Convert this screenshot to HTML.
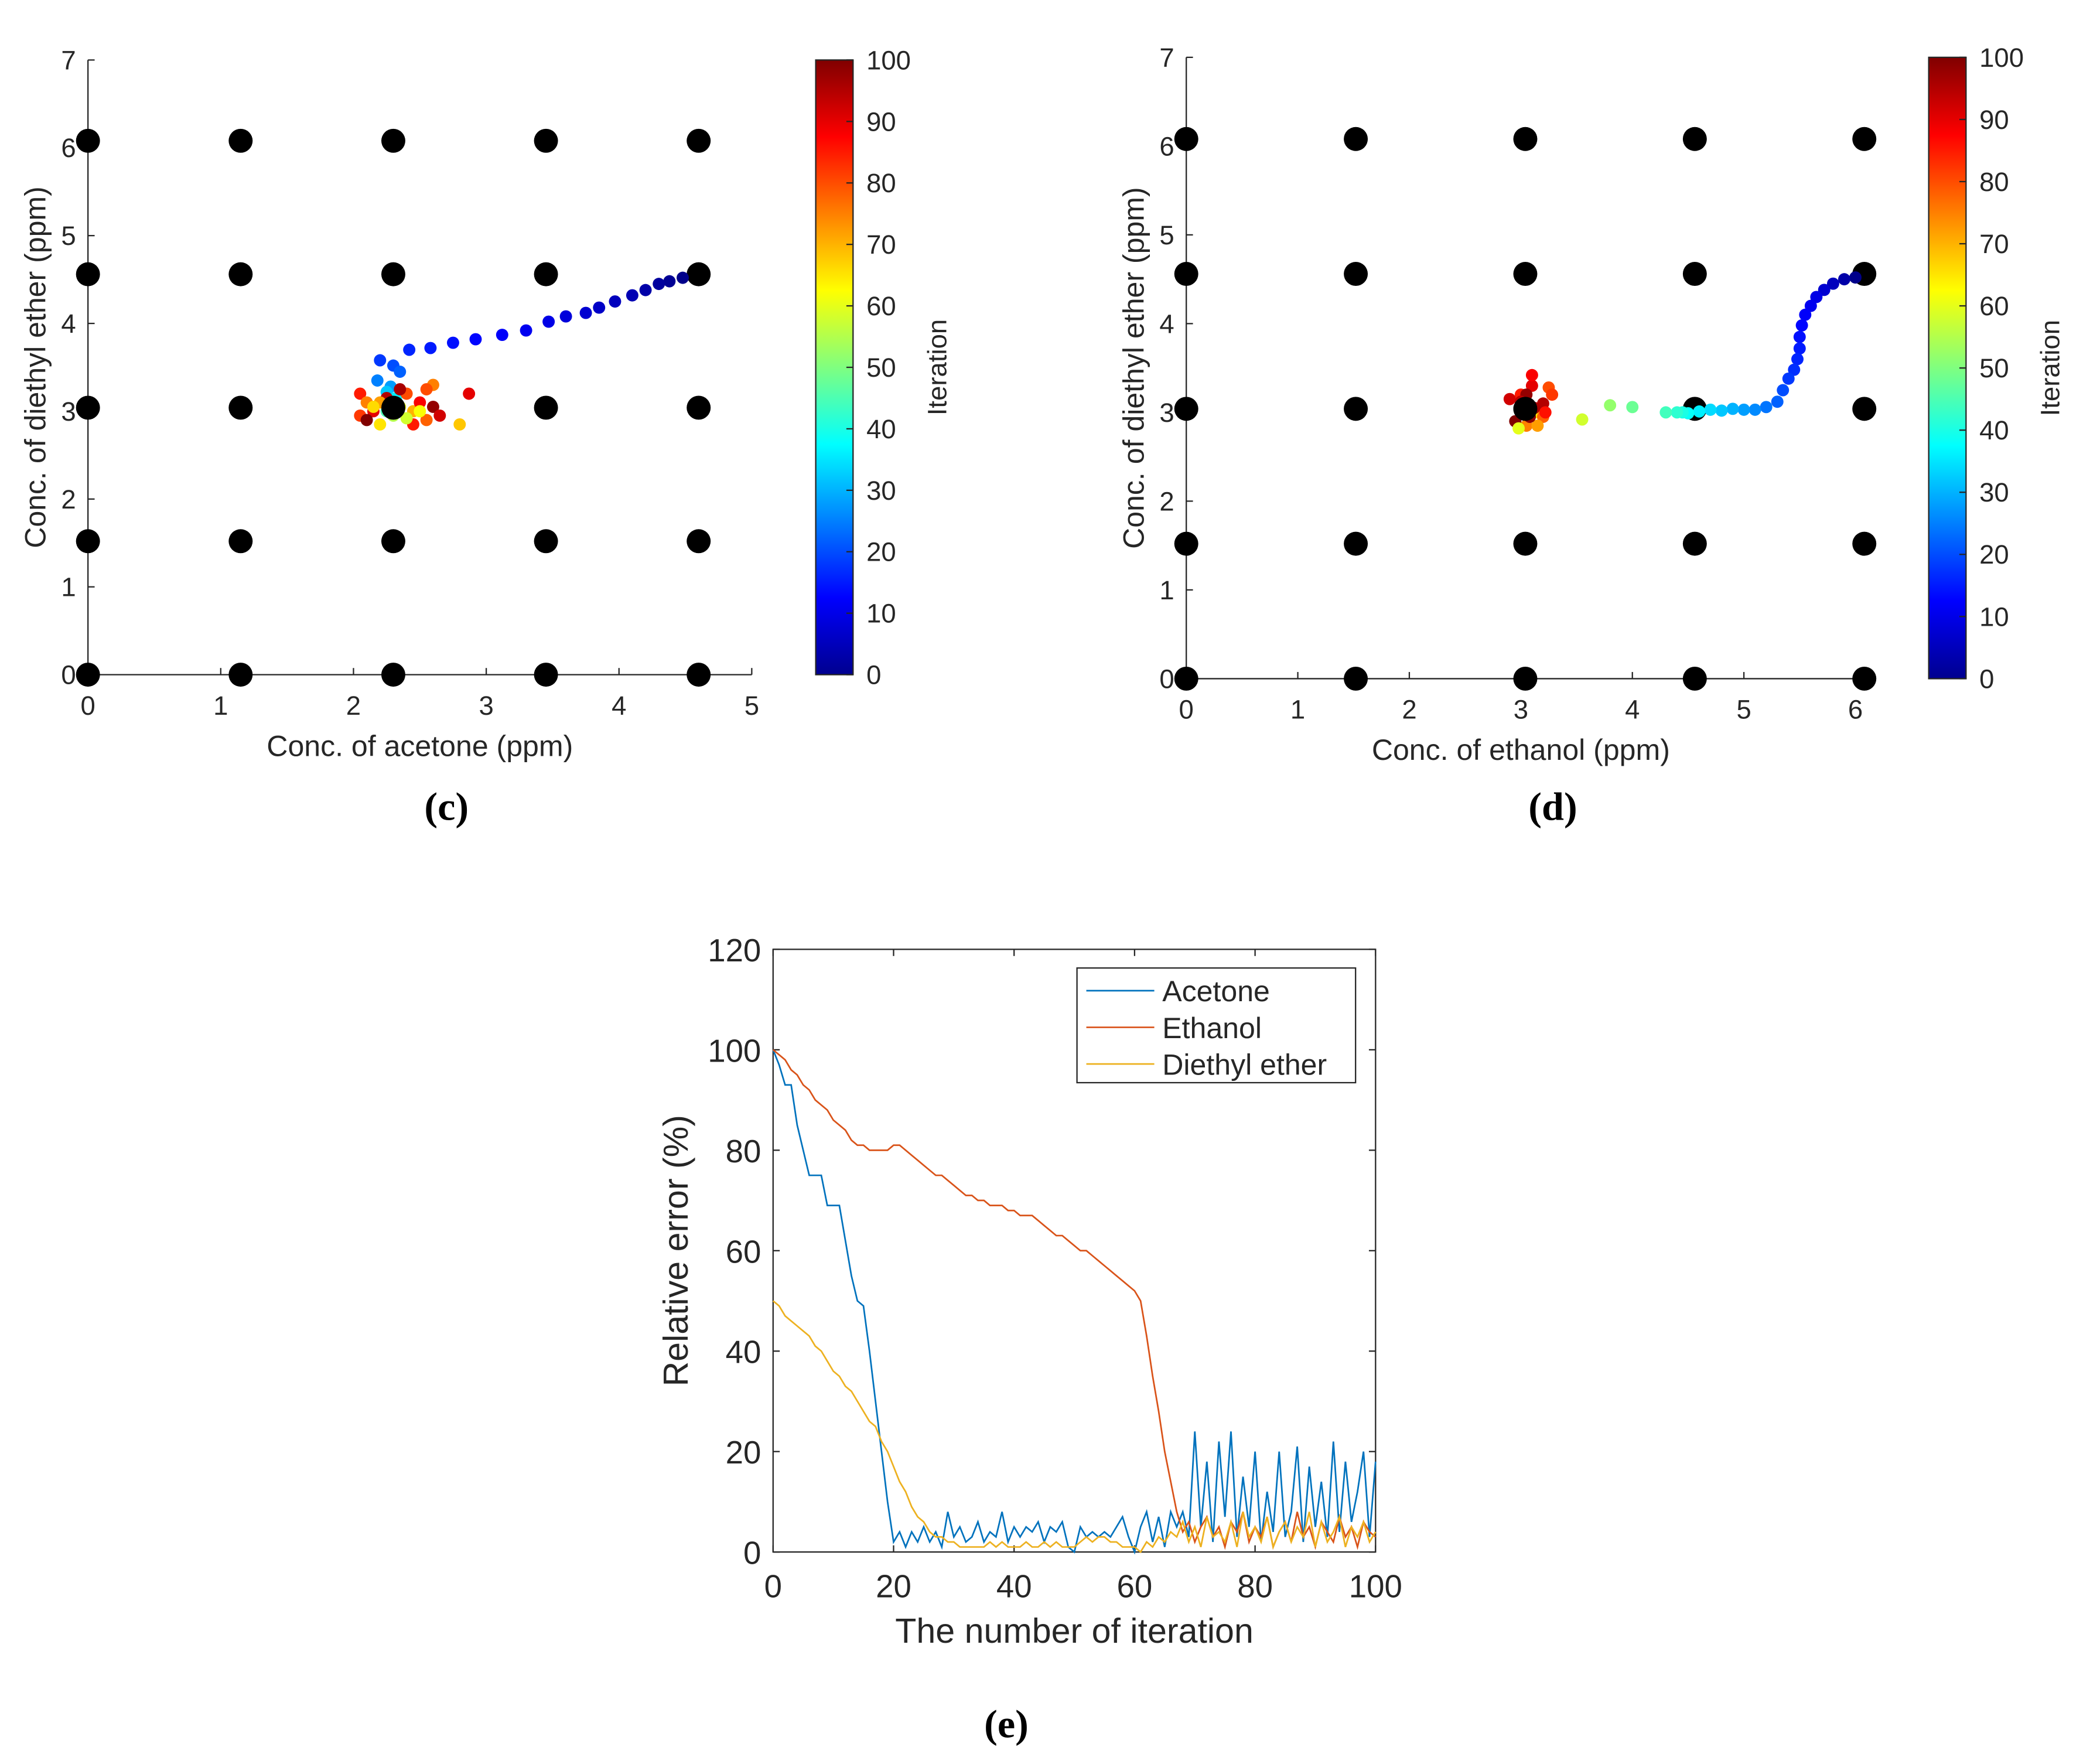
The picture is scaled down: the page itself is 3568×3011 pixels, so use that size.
<!DOCTYPE html>
<html><head><meta charset="utf-8"><style>
html,body{margin:0;padding:0;background:#fff;}
svg{display:block;}
text{font-family:"Liberation Sans",sans-serif;fill:#262626;}
</style></head><body>
<svg id="fig" xmlns="http://www.w3.org/2000/svg" width="3568" height="3011" viewBox="0 0 1568 1323" preserveAspectRatio="none">
<defs>
<linearGradient id="jet" x1="0" y1="1" x2="0" y2="0">
<stop offset="0" stop-color="#00008f"/><stop offset="0.125" stop-color="#0000ff"/><stop offset="0.375" stop-color="#00ffff"/><stop offset="0.625" stop-color="#ffff00"/><stop offset="0.875" stop-color="#ff0000"/><stop offset="1" stop-color="#800000"/>
</linearGradient>
</defs>
</svg>
<script>
// ---------- data ----------
const gridC_x = [0, 1.15, 2.3, 3.45, 4.6];
const gridC_y = [0, 1.52, 3.04, 4.56, 6.08];
const gridD_x = [0, 1.52, 3.04, 4.56, 6.08];
const gridD_y = [0, 1.52, 3.04, 4.56, 6.08];
const cTicksX = [0,1,2,3,4,5];
const cTicksY = [0,1,2,3,4,5,6,7];
const dTicksX = [0,1,2,3,4,5,6];
const dTicksY = [0,1,2,3,4,5,6,7];
const cbTicks = [0,10,20,30,40,50,60,70,80,90,100];
const cX = [4.48,4.38,4.3,4.2,4.1,3.97,3.85,3.75,3.6,3.47,3.3,3.12,2.92,2.75,2.58,2.42,2.2,2.3,2.35,2.18,2.28,2.25,2.32,
 2.05,2.1,2.15,2.2,2.25,2.3,2.35,2.4,2.45,2.5,2.55,2.6,2.6,2.65,2.8,2.87,2.05,2.1,2.2,2.55,2.45,2.35,2.28,2.25,2.32,2.5,2.4,2.15];
const cY = [4.52,4.48,4.45,4.38,4.32,4.25,4.18,4.12,4.08,4.02,3.92,3.87,3.82,3.78,3.72,3.7,3.58,3.52,3.45,3.35,3.28,3.22,3.15,
 3.2,3.1,3.0,2.85,3.15,2.95,3.05,3.2,3.0,3.1,2.9,3.3,3.05,2.95,2.85,3.2,2.95,2.9,3.1,3.25,2.85,3.25,3.02,3.0,3.1,3.0,2.92,3.05];
const cIter = [1,2,3,4,5,6,7,8,9,10,11,12,13,14,15,16,18,20,22,25,28,32,36,
 85,75,90,65,95,55,60,80,70,88,78,75,98,92,68,90,82,100,72,80,85,96,50,45,42,62,58,66];
const dX = [6.0,5.9,5.8,5.72,5.65,5.6,5.55,5.52,5.5,5.5,5.48,5.45,5.4,5.35,5.3,5.2,5.1,5.0,4.9,4.8,4.7,4.6,4.5,4.45,4.4,4.3,4.0,3.8,3.55,
 3.0,3.05,3.1,3.15,3.2,2.95,3.25,3.0,3.1,3.2,2.9,3.05,3.15,3.28,2.98,3.12,3.22,3.0,3.08];
const dY = [4.52,4.5,4.45,4.38,4.3,4.2,4.1,3.98,3.85,3.72,3.6,3.48,3.38,3.25,3.12,3.06,3.03,3.03,3.04,3.02,3.03,3.01,2.99,3.0,3.0,3.0,3.06,3.08,2.92,
 3.2,2.85,3.3,3.0,3.1,2.9,3.28,3.05,3.42,2.95,3.15,3.2,2.85,3.2,2.82,3.05,3.0,3.12,2.95];
const dIter = [1,4,6,8,10,11,12,13,14,15,16,17,18,20,22,24,26,28,30,32,34,36,38,40,42,44,48,52,58,
 85,75,90,65,95,100,80,70,88,78,92,98,72,82,60,96,86,94,99];
const eIter = Array.from({length:101},(_,i)=>i);
const acetone = [100,97,93,93,85,80,75,75,75,69,69,69,62,55,50,49,40,30,20,10,2,4,1,4,2,5,2,4,1,8,3,5,2,3,6,2,4,3,8,2,5,3,5,4,6,2,5,4,6,1,0,5,3,4,3,4,3,5,7,3,0,5,8,2,7,1,8,5,8,3,24,5,18,2,22,7,24,3,15,5,20,2,12,4,20,3,8,21,2,17,5,14,3,22,4,18,6,12,20,3,18];
const ethanol = [100,99,98,96,95,93,92,90,89,88,86,85,84,82,81,81,80,80,80,80,81,81,80,79,78,77,76,75,75,74,73,72,71,71,70,70,69,69,69,68,68,67,67,67,66,65,64,63,63,62,61,60,60,59,58,57,56,55,54,53,52,50,43,35,28,20,14,8,4,6,2,5,7,3,5,1,6,4,8,2,5,3,7,1,4,6,2,8,3,5,1,6,4,2,7,3,5,1,6,4,3];
const diethyl = [50,49,47,46,45,44,43,41,40,38,36,35,33,32,30,28,26,25,22,20,17,14,12,9,7,6,4,3,3,2,2,1,1,1,1,1,2,1,2,1,1,1,2,1,1,2,1,2,1,1,1,2,3,2,3,3,2,2,1,1,1,0,2,1,3,2,4,3,6,2,5,1,7,3,4,2,6,1,8,3,5,2,7,1,4,6,2,5,3,8,1,6,2,4,7,1,5,3,6,2,4];

// ---------- helpers ----------
const NS='http://www.w3.org/2000/svg';
const svg=document.getElementById('fig');
function mk(tag,attrs,parent){const e=document.createElementNS(NS,tag);for(const k in attrs)e.setAttribute(k,attrs[k]);(parent||svg).appendChild(e);return e;}
function txt(s,x,y,size,anchor,parent,extra){const t=mk('text',Object.assign({x:x,y:y,'font-size':size,'text-anchor':anchor||'middle'},extra||{}),parent);t.textContent=s;return t;}
function jet(v){const t=Math.max(0,Math.min(1,v/100));
 const r=Math.max(0,Math.min(1,1.5-Math.abs(4*t-3))),g=Math.max(0,Math.min(1,1.5-Math.abs(4*t-2))),b=Math.max(0,Math.min(1,1.5-Math.abs(4*t-1)));
 return 'rgb('+Math.round(r*255)+','+Math.round(g*255)+','+Math.round(b*255)+')';}

function scatterPanel(cfg){
 const g=mk('g',{});
 
 
 const sx=v=>cfg.x0+(v-cfg.xmin)/(cfg.xmax-cfg.xmin)*(cfg.x1-cfg.x0);
 const sy=v=>cfg.y0-(v-0)/(7)*(cfg.y0-cfg.y1);
 const ax=mk('path',{d:`M${cfg.x0},${cfg.y1}V${cfg.y0}H${cfg.x1}`,stroke:'#262626','stroke-width':1,fill:'none'},g);
 
 
 cfg.ticksX.forEach(v=>{mk('line',{x1:sx(v),x2:sx(v),y1:cfg.y0,y2:cfg.y0-5,stroke:'#262626'},g);
   const t=txt(String(v),sx(v),cfg.y0+30,20,'middle',g);
   
   });
 cfg.ticksY.forEach(v=>{mk('line',{x1:cfg.x0,x2:cfg.x0+5,y1:sy(v),y2:sy(v),stroke:'#262626'},g);
   const t=txt(String(v),cfg.x0-9,sy(v)+7,20,'end',g);
   
   });
 cfg.gx.forEach(xv=>cfg.gy.forEach(yv=>{const c=mk('circle',{cx:sx(xv),cy:sy(yv),r:9,fill:'#000'},g);
   
   }));
 cfg.px.forEach((xv,i)=>{const c=mk('circle',{cx:sx(xv),cy:sy(cfg.py[i]),r:4.6,fill:jet(cfg.pi[i])},g);
   
   });
 const cc=mk('circle',{cx:sx(cfg.gx[2]),cy:sy(3.04),r:9,fill:'#000'},g);
 
 
 const xt=txt(cfg.xlabel,(cfg.x0+cfg.x1)/2,cfg.y0+61,22,'middle',g);
 
 
 const yt=txt('Conc. of diethyl ether (ppm)',0,0,22,'middle',g,{transform:`translate(${cfg.x0-32},${(cfg.y0+cfg.y1)/2}) rotate(-90)`});
 
 
 const cb=mk('rect',{x:cfg.cbx,y:cfg.y1,width:28,height:cfg.y0-cfg.y1,fill:'url(#jet)',stroke:'#262626','stroke-width':1},g);
 
 
 cbTicks.forEach(v=>{const y=cfg.y0-v/100*(cfg.y0-cfg.y1);
   mk('line',{x1:cfg.cbx+28,x2:cfg.cbx+23,y1:y,y2:y,stroke:'#262626'},g);
   const t=txt(String(v),cfg.cbx+38,y+7,20,'start',g);
   
   });
 const it=txt('Iteration',0,0,20,'middle',g,{transform:`translate(${cfg.cbx+98},${(cfg.y0+cfg.y1)/2}) rotate(-90)`});
 
 
 const pl=txt(cfg.label,cfg.labx,615,30,'middle',g,{style:'font-family:"Liberation Serif",serif;font-weight:bold;fill:#000'});
 
 
}
scatterPanel({name:'panel-c',x0:66,x1:564,xmin:0,xmax:5,y0:506,y1:45,ticksX:cTicksX,ticksY:cTicksY,gx:gridC_x,gy:gridC_y,px:cX,py:cY,pi:cIter,xlabel:'Conc. of acetone (ppm)',cbx:612,label:'(c)',labx:335});
scatterPanel({name:'panel-d',x0:890,x1:1392,xmin:0,xmax:6,y0:509,y1:43,ticksX:dTicksX,ticksY:dTicksY,gx:gridD_x,gy:gridD_y,px:dX,py:dY,pi:dIter,xlabel:'Conc. of ethanol (ppm)',cbx:1447,label:'(d)',labx:1165});

// ---------- panel e ----------
const eTicksX=[0,20,40,60,80,100];
const eTicksY=[0,20,40,60,80,100,120];
(function(){
 const g=mk('g',{});
 
 
 const X0=580,X1=1032,Y0=1164,Y1=712;
 const sx=v=>X0+v/100*(X1-X0), sy=v=>Y0-v/120*(Y0-Y1);
 const fr=mk('rect',{x:X0,y:Y1,width:X1-X0,height:Y0-Y1,fill:'none',stroke:'#262626','stroke-width':1},g);
 
 
 eTicksX.forEach(v=>{mk('line',{x1:sx(v),x2:sx(v),y1:Y0,y2:Y0-5,stroke:'#262626'},g);mk('line',{x1:sx(v),x2:sx(v),y1:Y1,y2:Y1+5,stroke:'#262626'},g);
  const t=txt(String(v),sx(v),Y0+34,24,'middle',g);
  
  });
 eTicksY.forEach(v=>{mk('line',{x1:X0,x2:X0+5,y1:sy(v),y2:sy(v),stroke:'#262626'},g);mk('line',{x1:X1,x2:X1-5,y1:sy(v),y2:sy(v),stroke:'#262626'},g);
  const t=txt(String(v),X0-9,sy(v)+9,24,'end',g);
  
  });
 const series=[['acetone-line',acetone,'#0072bd'],['ethanol-line',ethanol,'#d95319'],['diethyl-ether-line',diethyl,'#edb120']];
 series.forEach(s=>{const p=mk('path',{d:s[1].map((v,i)=>(i?'L':'M')+sx(eIter[i]).toFixed(2)+','+sy(v).toFixed(2)).join(''),stroke:s[2],'stroke-width':1.2,fill:'none'},g);
  
  });
 const xt=txt('The number of iteration',(X0+X1)/2,Y0+68,26,'middle',g);
 
 
 const yt=txt('Relative error (%)',0,0,26,'middle',g,{transform:`translate(${X0-64},${(Y0+Y1)/2}) rotate(-90)`});
 
 
 const lg=mk('g',{},g);
 
 
 mk('rect',{x:808,y:726,width:209,height:86,fill:'#fff',stroke:'#262626','stroke-width':1},lg);
 [['Acetone','#0072bd'],['Ethanol','#d95319'],['Diethyl ether','#edb120']].forEach((l,i)=>{
  const y=743+i*27.5;
  const e=mk('g',{},lg);
  
  
  mk('line',{x1:815,x2:866,y1:y,y2:y,stroke:l[1],'stroke-width':1.2},e);
  txt(l[0],872,y+8,22,'start',e);});
 const pl=txt('(e)',755,1303,30,'middle',g,{style:'font-family:"Liberation Serif",serif;font-weight:bold;fill:#000'});
 
 
})();
</script>
</body></html>
